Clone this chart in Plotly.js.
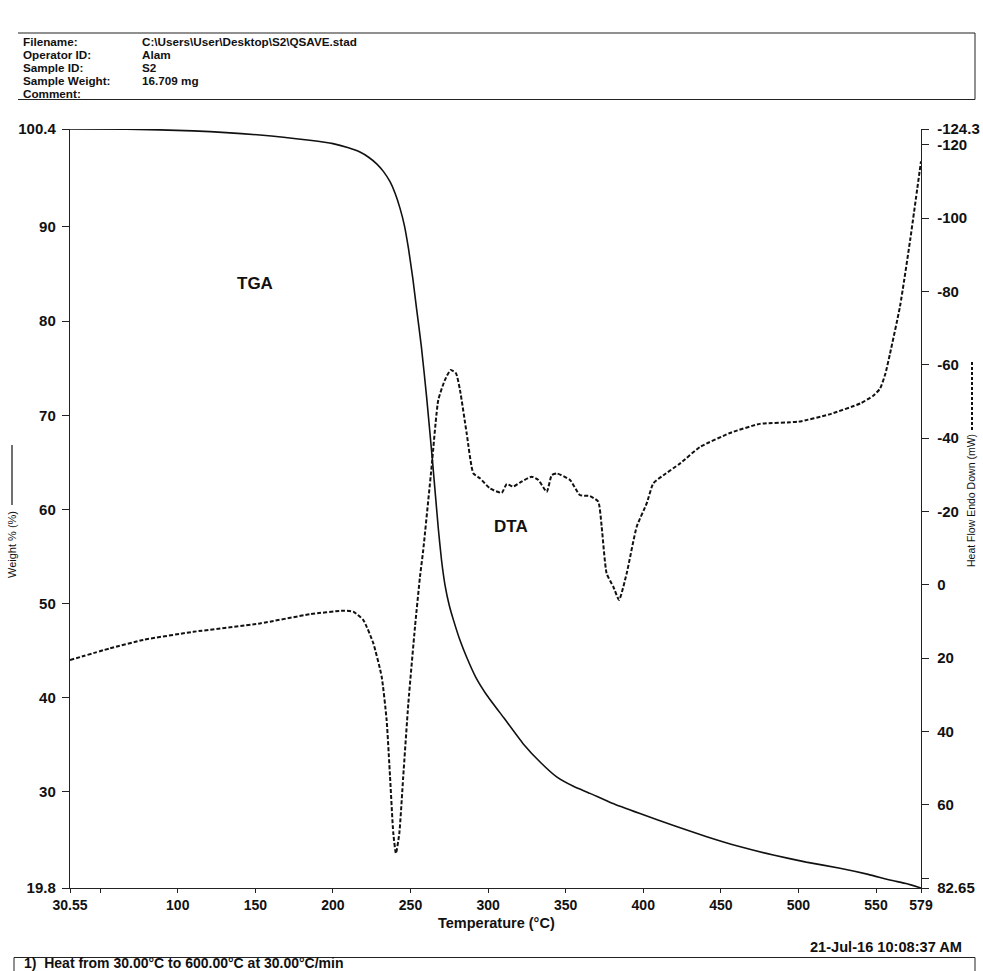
<!DOCTYPE html>
<html>
<head>
<meta charset="utf-8">
<script src="https://cdn.plot.ly/plotly-3.0.1.min.js"></script>
<style>
html,body{margin:0;padding:0;background:#fff;}
#chart{width:983px;height:971px;}
</style>
</head>
<body>
<div id="chart"></div>
<script>
// ---- Data ----
const tgaTemp = [30.55, 67, 110, 153, 185, 200, 210, 217.4, 223, 228.2, 232.5, 236.8, 240, 243.2, 246, 248.6, 251.5, 254, 257, 260.4, 264.3, 267.9, 270, 272.2, 275, 277.6, 281.9, 286.2, 292, 299.1, 310, 322.7, 334, 344.2, 355, 365.7, 380, 397.9, 420, 440.9, 462, 483.8, 505, 526.8, 545, 559, 570, 579];
const tgaWeight = [100.4, 100.38, 100.2, 99.76, 99.2, 98.85, 98.4, 97.95, 97.4, 96.7, 95.9, 94.8, 93.6, 92.0, 90.2, 87.8, 84.5, 81.2, 77.3, 71.9, 64.9, 58.0, 54.6, 52.0, 49.8, 48.3, 46.1, 44.3, 42.2, 40.3, 37.9, 35.1, 33.1, 31.6, 30.6, 29.85, 28.8, 27.7, 26.4, 25.25, 24.2, 23.3, 22.55, 21.9, 21.25, 20.65, 20.25, 19.8];

const dtaTemp = [30.55, 56.3, 77.8, 110, 153, 185.2, 206.7, 213.1, 219.6, 226, 231.4, 234.6, 236.8, 238.9, 240.6, 242.8, 245.3, 248.6, 252.9, 256.1, 258.2, 263.6, 267.9, 272.2, 275.9, 279.3, 281.9, 286.2, 290.5, 294.8, 301.2, 308.8, 312, 316.2, 320.6, 328.1, 332.4, 337.8, 341, 344.2, 352.8, 359.2, 365.7, 371, 373.2, 376.4, 380.7, 384.4, 389.3, 395.8, 402.2, 406.5, 413, 423.7, 436.6, 455.9, 475.2, 500, 520, 540, 548, 552.6, 556, 559, 565.5, 572, 579];
const dtaHeat = [20.5, 17.3, 15.0, 12.8, 10.5, 8.0, 7.05, 7.3, 9.6, 15.9, 25.0, 36.8, 52.3, 67.7, 73.2, 67.7, 52.3, 32.3, 11.4, -2.2, -9.5, -32.2, -50.4, -55.9, -58.6, -57.7, -53.1, -41.3, -30.4, -29.05, -26.3, -25.1, -27.5, -26.8, -27.9, -29.5, -28.6, -25.4, -29.9, -30.4, -28.6, -24.5, -24.2, -22.7, -15.9, -3.1, 0.5, 4.1, -3.1, -15.9, -22.2, -27.7, -29.9, -33.1, -37.6, -41.4, -43.9, -44.5, -46.5, -49.5, -51.5, -53.5, -57.5, -63, -76, -94, -115.5];

const xTickVals = [30.55, 50, 100, 150, 200, 250, 300, 350, 400, 450, 500, 550, 579];
const xTickText = ["30.55", "", "100", "150", "200", "250", "300", "350", "400", "450", "500", "550", "579"];
const yTickVals = [100.4, 90, 80, 70, 60, 50, 40, 30, 19.8];
const yTickText = ["100.4", "90", "80", "70", "60", "50", "40", "30", "19.8"];
const y2TickVals = [-124.3, -120, -100, -80, -60, -40, -20, 0, 20, 40, 60, 80, 82.65];
const y2TickText = ["-124.3", "-120", "-100", "-80", "-60", "-40", "-20", "0", "20", "40", "60", "", "82.65"];

const headerLabels = ["Filename:", "Operator ID:", "Sample ID:", "Sample Weight:", "Comment:"];
const headerValues = ["C:\\Users\\User\\Desktop\\S2\\QSAVE.stad", "Alam", "S2", "16.709 mg", ""];

// ---- Layout helpers (pixel -> paper) ----
const L = 70, R = 921, T = 129, B = 888;
const px = x => (x - L) / (R - L);
const py = y => (B - y) / (B - T);

const FONT = "Liberation Sans, Arial, sans-serif";
const tickFont = {family: FONT, size: 15, color: "#111", weight: "bold"};

const traces = [
  {x: tgaTemp, y: tgaWeight, type: "scatter", mode: "lines", name: "TGA",
   line: {color: "#111", width: 1.6, shape: "spline", smoothing: 0.5}},
  {x: dtaTemp, y: dtaHeat, type: "scatter", mode: "lines", name: "DTA", yaxis: "y2",
   line: {color: "#111", width: 2, dash: "4px,2px", shape: "spline", smoothing: 0.5}}
];

function ann(text, x, y, opts) {
  return Object.assign({text: text, x: px(x), y: py(y), xref: "paper", yref: "paper",
    xanchor: "center", yanchor: "middle", showarrow: false, borderpad: 0,
    font: {family: FONT, size: 15, color: "#111", weight: "bold"}}, opts || {});
}

const headFont = {family: FONT, size: 11.7, color: "#111", weight: "bold"};
const annotations = [];
headerLabels.forEach((t, i) => {
  const yy = 41.5 + i * 13.1;
  annotations.push(ann(t, 22, yy, {xanchor: "left", font: headFont}));
  if (headerValues[i]) annotations.push(ann(headerValues[i], 141, yy, {xanchor: "left", font: headFont}));
});
annotations.push(ann("TGA", 255, 283, {font: {family: FONT, size: 17, color: "#111", weight: "bold"}}));
annotations.push(ann("DTA", 511, 526, {font: {family: FONT, size: 17, color: "#111", weight: "bold"}}));
annotations.push(ann("Temperature (°C)", 496, 922.5, {font: {family: FONT, size: 14.5, color: "#111", weight: "bold"}}));
annotations.push(ann("21-Jul-16 10:08:37 AM", 963, 947, {xanchor: "right", font: {family: FONT, size: 14.6, color: "#111", weight: "bold"}}));
annotations.push(ann("1)  Heat from 30.00°C to 600.00°C at 30.00°C/min", 23, 962.5, {xanchor: "left", font: {family: FONT, size: 14, color: "#111", weight: "bold"}}));
annotations.push(ann("Weight % (%)", 12, 545, {textangle: -90, font: {family: FONT, size: 11, color: "#111"}}));
annotations.push(ann("Heat Flow Endo Down (mW)", 971, 500, {textangle: -90, font: {family: FONT, size: 10.5, color: "#111"}}));

const shapes = [
  // header box
  {type: "line", xref: "paper", yref: "paper", x0: px(18), x1: px(975), y0: py(33), y1: py(33), line: {color: "#222", width: 1.2}},
  {type: "line", xref: "paper", yref: "paper", x0: px(18), x1: px(975), y0: py(99.5), y1: py(99.5), line: {color: "#222", width: 1.2}},
  {type: "line", xref: "paper", yref: "paper", x0: px(975), x1: px(975), y0: py(33), y1: py(99.5), line: {color: "#222", width: 1}},
  // footer box
  {type: "line", xref: "paper", yref: "paper", x0: px(14), x1: px(975), y0: py(957.5), y1: py(957.5), line: {color: "#222", width: 1.2}},
  {type: "line", xref: "paper", yref: "paper", x0: px(14), x1: px(14), y0: py(957.5), y1: py(975), line: {color: "#222", width: 1}},
  {type: "line", xref: "paper", yref: "paper", x0: px(975), x1: px(975), y0: py(957.5), y1: py(975), line: {color: "#222", width: 1}},
  // axis title legend marks
  {type: "line", xref: "paper", yref: "paper", x0: px(12), x1: px(12), y0: py(505), y1: py(445), line: {color: "#111", width: 1.2}},
  {type: "line", xref: "paper", yref: "paper", x0: px(972), x1: px(972), y0: py(430), y1: py(362), line: {color: "#111", width: 2, dash: "3px,2px"}}
];

const axisCommon = {showgrid: false, zeroline: false, showline: true, linecolor: "#222", linewidth: 1.2,
  ticks: "outside", ticklen: 6, tickwidth: 1, tickcolor: "#222", tickmode: "array", tickfont: tickFont};

const layout = {
  width: 983, height: 971,
  margin: {l: L, r: 983 - R, t: T, b: 971 - B, pad: 0},
  paper_bgcolor: "#fff", plot_bgcolor: "#fff",
  showlegend: false,
  xaxis: Object.assign({}, axisCommon, {range: [30.55, 579], tickvals: xTickVals, ticktext: xTickText, ticklen: 4,
    tickfont: {family: FONT, size: 14, color: "#111", weight: "bold"}}),
  yaxis: Object.assign({}, axisCommon, {range: [19.8, 100.4], tickvals: yTickVals, ticktext: yTickText, ticklen: 7, ticklabelstandoff: 3}),
  yaxis2: Object.assign({}, axisCommon, {range: [82.65, -124.3], overlaying: "y", side: "right",
    tickvals: y2TickVals, ticktext: y2TickText, ticklen: 7, ticklabelstandoff: 5}),
  annotations: annotations,
  shapes: shapes
};

Plotly.newPlot("chart", traces, layout, {displayModeBar: false, staticPlot: true});
</script>
</body>
</html>
